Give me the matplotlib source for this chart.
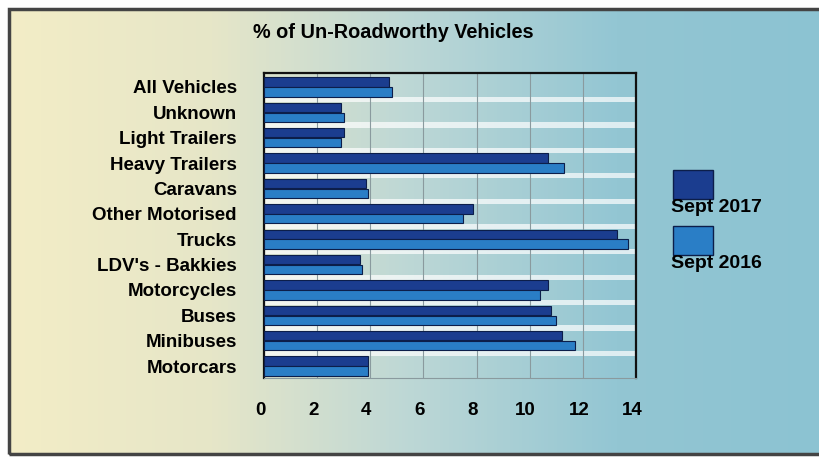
import matplotlib

matplotlib.use("Agg")
import matplotlib.pyplot as plt
import matplotlib.transforms as mtransforms
import numpy as np
from matplotlib.colors import LinearSegmentedColormap
from matplotlib.patches import Rectangle

categories = [
    "All Vehicles", "Unknown", "Light Trailers", "Heavy Trailers", "Caravans",
    "Other Motorised", "Trucks", "LDV's - Bakkies", "Motorcycles", "Buses",
    "Minibuses", "Motorcars",
]
sept_2017 = [4.7, 2.9, 3.0, 10.7, 3.85, 7.85, 13.3, 3.6, 10.7, 10.8, 11.2, 3.9]
sept_2016 = [4.8, 3.0, 2.9, 11.3, 3.9, 7.5, 13.7, 3.7, 10.4, 11.0, 11.7, 3.9]
x_ticks = [0, 2, 4, 6, 8, 10, 12, 14]

DARK = "#1b3d8f"
LIGHT = "#2a7ec6"
FONT = "Liberation Sans"
FS = 13.5

W, H = 820, 457
fig = plt.figure(figsize=(W / 100, H / 100), dpi=100)
fig.patch.set_facecolor("white")

# background gradient (cream -> light teal)
bg = fig.add_axes([9 / W, 3 / H, 1 - 9 / W, 1 - 12 / H])
bg.set_axis_off()
grad = LinearSegmentedColormap.from_list(
    "bg", ["#f3edc6", "#e6e6c8", "#bcd7d6", "#93c6d3", "#8cc3d2"]
)
bg.imshow(np.linspace(0, 1, 256).reshape(1, -1), aspect="auto", cmap=grad,
          extent=[0, 1, 0, 1])
bg.set_xlim(0, 1)
bg.set_ylim(0, 1)
fig.add_artist(Rectangle((9 / W, 3 / H), 1, 1 - 12 / H, transform=fig.transFigure,
                         fill=False, edgecolor="#444444", linewidth=2.5))

ax = fig.add_axes([264 / W, 1 - 378 / H, (636 - 264) / W, (378 - 73) / H])
ax.patch.set_alpha(0)

y = np.arange(len(categories))
h = 0.37
ax.barh(y - h / 2 - 0.01, sept_2017, height=h, color=DARK, edgecolor="#0c1e4a",
        linewidth=0.8, zorder=3)
ax.barh(y + h / 2 + 0.01, sept_2016, height=h, color=LIGHT, edgecolor="#0c1e4a",
        linewidth=0.8, zorder=3)

# white floor strips between categories
for i in range(len(categories) - 1):
    ax.axhspan(i + 0.4, i + 0.6, xmin=0, xmax=1, color="white", alpha=0.7,
               lw=0, zorder=1)

ax.set_xlim(0, 14)
ax.set_ylim(11.47, -0.55)
ax.set_xticks(x_ticks)
ax.set_xticklabels([str(t) for t in x_ticks], fontfamily=FONT,
                   fontweight="bold", fontsize=FS)
ax.set_yticks(y)
ax.set_yticklabels(categories, fontfamily=FONT, fontweight="bold", fontsize=FS)
ax.tick_params(axis="both", length=0)
ax.tick_params(axis="y", pad=19.5)
ax.tick_params(axis="x", pad=17.5)
shift = mtransforms.ScaledTranslation(-4 / 100, 0, fig.dpi_scale_trans)
for lbl in ax.get_xticklabels():
    lbl.set_transform(lbl.get_transform() + shift)
ax.grid(axis="x", color="#8a9a9e", linewidth=0.8, zorder=2)
for side in ["left", "right", "top"]:
    ax.spines[side].set_color("#111111")
    ax.spines[side].set_linewidth(1.6)
ax.spines["bottom"].set_color("#8a9a9e")

fig.text(393 / W, 1 - 33 / H, "% of Un-Roadworthy Vehicles", ha="center",
         va="center", fontfamily=FONT, fontweight="bold", fontsize=14.3)

# legend: swatch with label underneath
for col, label, top, ty in [(DARK, "Sept 2017", 170, 208), (LIGHT, "Sept 2016", 226, 264)]:
    fig.add_artist(Rectangle((673 / W, 1 - (top + 29) / H), 40 / W, 29 / H,
                             transform=fig.transFigure, facecolor=col,
                             edgecolor="#0c1e4a", linewidth=1))
    fig.text(671 / W, 1 - ty / H, label, ha="left", va="center",
             fontfamily=FONT, fontweight="bold", fontsize=14)

fig.savefig("out.png", dpi=100)
